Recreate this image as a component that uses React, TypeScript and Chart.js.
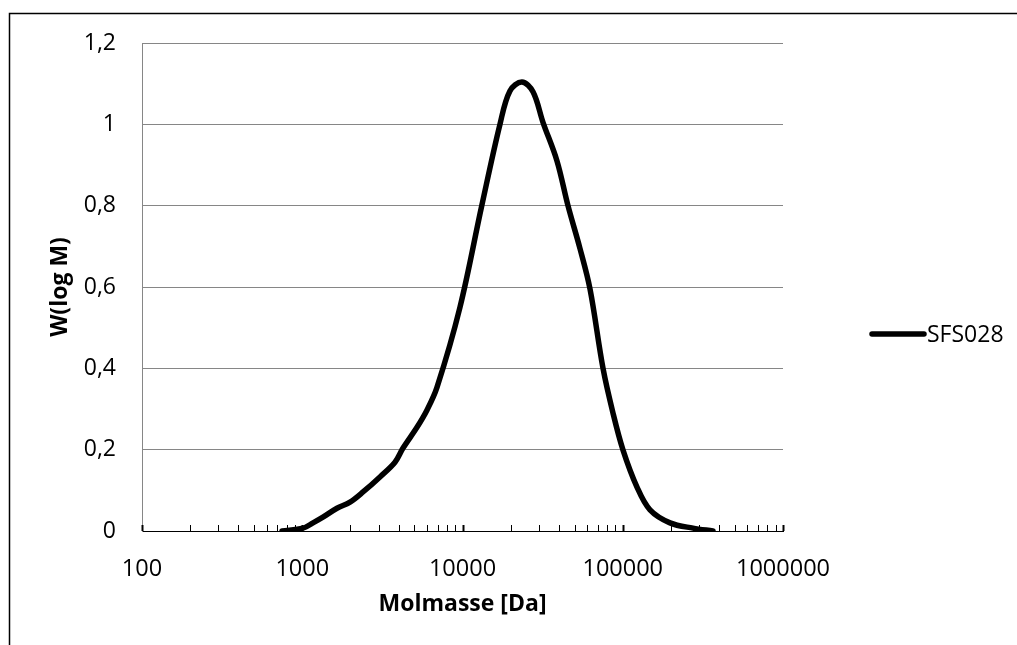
import React, { useEffect, useRef } from "react";
import { Chart, registerables } from "chart.js";

Chart.register(...registerables);

const seriesLabel = "SFS028";
const molarMasses = [
  748, 1011, 1167, 1346, 1647, 1986, 2395, 3055, 3791, 4255, 5200, 5998, 6930,
  9640, 13190, 17130, 19770, 23500, 27530, 31780, 38870, 45520, 54060, 62480,
  75300, 86930, 100400, 122700, 147900, 197200, 274300, 365800,
];
const weights = [
  0, 0.007, 0.02, 0.034, 0.056, 0.071, 0.096, 0.133, 0.169, 0.204, 0.255, 0.297, 0.353,
  0.55, 0.8, 1.0, 1.082, 1.104, 1.08, 1.005, 0.91, 0.8, 0.695, 0.595,
  0.4, 0.29, 0.199, 0.108, 0.052, 0.02, 0.007, 0,
];
const xTickDecades = [100, 1000, 10000, 100000];
const xTickMultipliers = [1, 2, 3, 4, 5, 6, 7, 8, 9];
const xMin = 100;
const xMax = 1000000;
const yTicks = [0, 0.2, 0.4, 0.6, 0.8, 1.0, 1.2];
const xTitle = "Molmasse [Da]";
const yTitle = "W(log M)";

const FONT = "'Open Sans', sans-serif";

export default function App() {
  const ref = useRef<HTMLCanvasElement>(null);

  useEffect(() => {
    const canvas = ref.current!;
    const decor = {
      id: "decor",
      afterDraw(chart: any) {
        const ctx = chart.ctx as CanvasRenderingContext2D;
        const area = chart.chartArea;
        const xs = chart.scales.x;
        ctx.save();
        // outer frame
        ctx.strokeStyle = "#000";
        ctx.lineWidth = 1.5;
        ctx.strokeRect(9.5, 13.5, 1100, 700);
        // x ticks drawn upward inside the plot
        for (const t of xs.ticks) {
          const px = Math.round(xs.getPixelForValue(t.value)) + 0.5;
          const major = Math.abs(Math.log10(t.value) - Math.round(Math.log10(t.value))) < 1e-9;
          ctx.beginPath();
          ctx.lineWidth = major ? 2 : 1;
          ctx.strokeStyle = "#000";
          ctx.moveTo(px, area.bottom);
          ctx.lineTo(px, area.bottom - 6);
          ctx.stroke();
        }
        // axis titles
        ctx.fillStyle = "#000";
        ctx.font = `bold 23px ${FONT}`;
        ctx.textAlign = "center";
        ctx.textBaseline = "middle";
        ctx.fillText(xTitle, (area.left + area.right) / 2, 604);
        ctx.save();
        ctx.translate(60, (area.top + area.bottom) / 2);
        ctx.rotate(-Math.PI / 2);
        ctx.fillText(yTitle, 0, 0);
        ctx.restore();
        // legend
        const ds = chart.data.datasets[0];
        ctx.beginPath();
        ctx.strokeStyle = ds.borderColor;
        ctx.lineWidth = 5.5;
        ctx.lineCap = "round";
        ctx.moveTo(872, 334);
        ctx.lineTo(924, 334);
        ctx.stroke();
        ctx.font = `23px ${FONT}`;
        ctx.textAlign = "left";
        ctx.fillText(ds.label, 927, 335);
        ctx.restore();
      },
    };

    const chart = new Chart(canvas, {
      type: "line",
      data: {
        datasets: [
          {
            label: seriesLabel,
            data: molarMasses.map((m, i) => ({ x: m, y: weights[i] })),
            borderColor: "#000",
            borderWidth: 5.5,
            pointRadius: 0,
            fill: false,
            tension: 0.35,
            borderCapStyle: "round",
            borderJoinStyle: "round",
          } as any,
        ],
      },
      options: {
        responsive: false,
        animation: false,
        devicePixelRatio: 1,
        layout: { padding: { left: 0, top: 43, right: 234, bottom: 0 } },
        plugins: { legend: { display: false }, tooltip: { enabled: false } },
        scales: {
          x: {
            type: "logarithmic",
            min: xMin,
            max: xMax,
            afterBuildTicks: (s: any) => {
              const ticks: any[] = [];
              for (const d of xTickDecades) for (const m of xTickMultipliers) ticks.push({ value: d * m });
              ticks.push({ value: xMax });
              s.ticks = ticks;
            },
            afterFit: (s: any) => {
              s.height = 114;
            },
            grid: { display: false, drawTicks: false },
            border: { display: true, color: "#000", width: 1 },
            ticks: {
              autoSkip: false,
              maxRotation: 0,
              minRotation: 0,
              padding: 24,
              color: "#000",
              font: { family: FONT, size: 23.5 },
              callback: (v: any) => {
                const l = Math.log10(Number(v));
                return Math.abs(l - Math.round(l)) < 1e-9 ? String(v) : "";
              },
            },
          },
          y: {
            min: 0,
            max: 1.2,
            afterBuildTicks: (s: any) => {
              s.ticks = yTicks.map((v) => ({ value: v }));
            },
            afterFit: (s: any) => {
              s.width = 142;
            },
            grid: {
              drawTicks: false,
              lineWidth: 1,
              color: (c: any) => (c.tick && c.tick.value === 0 ? "#000" : "#868686"),
            },
            border: { display: true, color: "#868686", width: 1 },
            ticks: {
              padding: 26,
              color: "#000",
              font: { family: FONT, size: 23 },
              callback: (v: any) => String(Math.round(Number(v) * 10) / 10).replace(".", ","),
            },
          },
        },
      },
      plugins: [decor],
    });
    return () => chart.destroy();
  }, []);

  return (
    <canvas
      ref={ref}
      width={1017}
      height={645}
      style={{ position: "fixed", left: 0, top: 0, display: "block", background: "#fff" }}
    />
  );
}
